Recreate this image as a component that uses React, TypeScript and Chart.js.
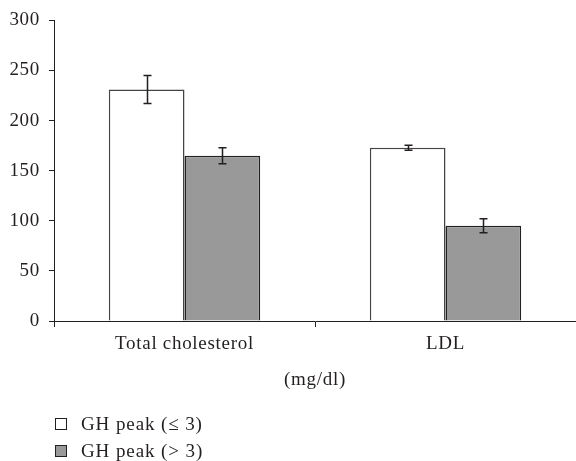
import React, { useEffect, useRef } from "react";
import { Chart, registerables } from "chart.js";

Chart.register(...registerables);

const categories = ["Total cholesterol", "LDL"];
const seriesLabels = ["GH peak (\u2264 3)", "GH peak (> 3)"];
const lowPeakValues = [231, 173];
const lowPeakErrors = [14, 2.5];
const highPeakValues = [165, 95];
const highPeakErrors = [8, 7];
const seriesColors = ["#ffffff", "#999999"];
const yTicks = [0, 50, 100, 150, 200, 250, 300];
const xTitle = "(mg/dl)";

const FONT = "'Liberation Serif', 'Times New Roman', serif";
const INK = "#231f20";
const SPACING = "0.7px";

const spacingPlugin = {
  id: "letterSpacing",
  beforeLayout(chart: any) {
    try {
      chart.ctx.letterSpacing = SPACING;
    } catch (e) {}
  },
  beforeDraw(chart: any) {
    try {
      chart.ctx.letterSpacing = SPACING;
    } catch (e) {}
  },
};

const errorBarPlugin = {
  id: "errorBars",
  afterDatasetsDraw(chart: any) {
    const { ctx } = chart;
    const yScale = chart.scales.y;
    chart.data.datasets.forEach((ds: any, di: number) => {
      const meta = chart.getDatasetMeta(di);
      const errs: number[] = ds.errors || [];
      meta.data.forEach((bar: any, i: number) => {
        const v = ds.data[i];
        const e = errs[i];
        if (e == null) return;
        const x = Math.round(bar.x) + 0.5;
        const yTop = yScale.getPixelForValue(v + e);
        const yBot = yScale.getPixelForValue(v - e);
        ctx.save();
        ctx.strokeStyle = INK;
        ctx.lineWidth = 1.5;
        ctx.beginPath();
        ctx.moveTo(x, yTop);
        ctx.lineTo(x, yBot);
        ctx.moveTo(x - 4, yTop);
        ctx.lineTo(x + 4, yTop);
        ctx.moveTo(x - 4, yBot);
        ctx.lineTo(x + 4, yBot);
        ctx.stroke();
        ctx.restore();
      });
    });
  },
};

export default function App() {
  const ref = useRef<HTMLCanvasElement | null>(null);

  useEffect(() => {
    document.body.style.margin = "0";
    const canvas = ref.current;
    if (!canvas) return;
    const chart = new Chart(canvas, {
      type: "bar",
      data: {
        labels: categories,
        datasets: [
          {
            label: seriesLabels[0],
            data: lowPeakValues,
            errors: lowPeakErrors,
            backgroundColor: seriesColors[0],
            borderColor: "#444444",
            borderWidth: 1.5,
            categoryPercentage: 0.58,
            barPercentage: 1,
          } as any,
          {
            label: seriesLabels[1],
            data: highPeakValues,
            errors: highPeakErrors,
            backgroundColor: seriesColors[1],
            borderColor: "#222222",
            borderWidth: 1.5,
            categoryPercentage: 0.58,
            barPercentage: 1,
          } as any,
        ],
      },
      options: {
        animation: false,
        responsive: false,
        maintainAspectRatio: false,
        layout: { padding: { top: 19, right: -3, bottom: 70, left: 0 } },
        plugins: {
          legend: { display: false },
          tooltip: { enabled: false },
        },
        scales: {
          x: {
            offset: true,
            grid: {
              display: true,
              offset: true,
              drawOnChartArea: false,
              drawTicks: true,
              tickLength: 6,
              color: (c: any) => (c.index === undefined ? "rgba(0,0,0,0)" : INK),
            },
            border: { display: true, color: INK, width: 1 },
            ticks: { color: INK, font: { family: FONT, size: 19 }, padding: 6 },
            title: {
              display: true,
              text: xTitle,
              color: INK,
              font: { family: FONT, size: 19 },
              padding: { top: 0, bottom: 0 },
            },
            afterFit: (s: any) => {
              s.height = 70;
            },
          },
          y: {
            min: 0,
            max: 300,
            afterBuildTicks: (s: any) => {
              s.ticks = yTicks.map((v) => ({ value: v }));
            },
            grid: {
              display: true,
              drawOnChartArea: false,
              drawTicks: true,
              tickLength: 5,
              color: INK,
            },
            border: { display: true, color: INK, width: 1 },
            ticks: { color: INK, font: { family: FONT, size: 19 }, padding: 9 },
            afterFit: (s: any) => {
              s.width = 54;
            },
          },
        },
      },
      plugins: [spacingPlugin, errorBarPlugin],
    });
    return () => chart.destroy();
  }, []);

  const legendItem = (i: number, top: number) => (
    <div
      key={i}
      style={{
        position: "absolute",
        left: 55,
        top,
        height: 20,
        display: "flex",
        alignItems: "center",
        fontFamily: FONT,
        fontSize: 19,
        letterSpacing: "0.9px",
        color: INK,
        whiteSpace: "nowrap",
      }}
    >
      <span
        style={{
          display: "inline-block",
          width: 10,
          height: 10,
          border: "1.5px solid " + INK,
          background: seriesColors[i],
          marginRight: 14,
        }}
      />
      <span>{seriesLabels[i]}</span>
    </div>
  );

  return (
    <div
      style={{
        position: "fixed",
        left: 0,
        top: 0,
        width: 576,
        height: 461,
        background: "#fff",
        overflow: "hidden",
      }}
    >
      <canvas ref={ref} width={576} height={461} style={{ display: "block" }} />
      {legendItem(0, 414)}
      {legendItem(1, 441)}
    </div>
  );
}
